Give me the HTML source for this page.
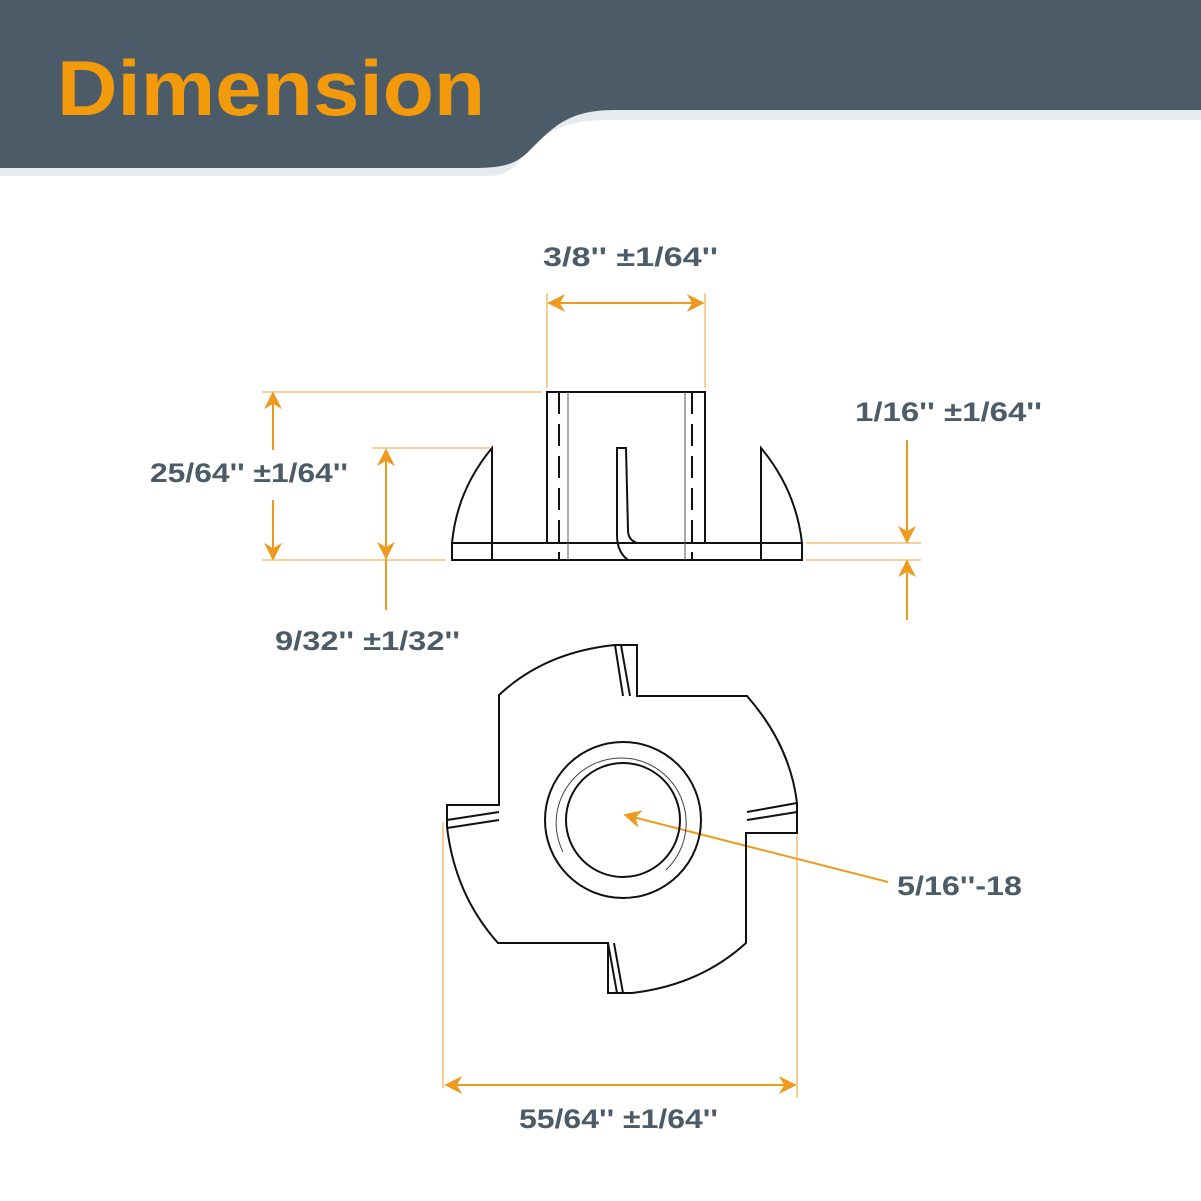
<!DOCTYPE html>
<html><head><meta charset="utf-8"><style>
html,body{margin:0;padding:0;background:#fff;}
svg{display:block;}
text{font-family:"Liberation Sans",sans-serif;font-weight:bold;fill:#4b5b67;}
</style></head><body>
<svg width="1201" height="1201" viewBox="0 0 1201 1201" xmlns="http://www.w3.org/2000/svg">
<defs>
<marker id="ah2" viewBox="0 0 10 10" refX="9" refY="5" markerWidth="18" markerHeight="18" orient="auto-start-reverse" markerUnits="userSpaceOnUse"><path d="M0,0 L10,5 L0,10 L3,5 z" fill="#ee9a1f"/></marker>
</defs>
<!-- header -->
<path d="M0,0 H1201 V120 H610 C560,120 540,135 520,160 C505,178 495,176 470,176 H0 Z" fill="#e6ebef"/>
<path d="M0,0 H1201 V110 H615 C570,110 555,125 530,150 C515,166 500,168 470,168 H0 Z" fill="#4b5c68"/>
<text x="57" y="115" font-size="78" textLength="428" lengthAdjust="spacingAndGlyphs" style="fill:#f39a0a">Dimension</text>

<g stroke="#f0b35a" stroke-width="1.3" fill="none">
<line x1="547" y1="293" x2="547" y2="388"/><line x1="705" y1="293" x2="705" y2="388"/>
<line x1="262" y1="392" x2="542" y2="392"/>
<line x1="262" y1="560" x2="445" y2="560"/>
<line x1="372" y1="448" x2="490" y2="448"/>
<line x1="806" y1="543" x2="921" y2="543"/><line x1="806" y1="560" x2="921" y2="560"/>
<line x1="443" y1="822" x2="443" y2="1088"/><line x1="797" y1="835" x2="797" y2="1098"/>
</g>
<g stroke="#ee9a1f" stroke-width="2" fill="none">
<line x1="549" y1="303" x2="703" y2="303" marker-start="url(#ah2)" marker-end="url(#ah2)"/>
<line x1="273" y1="450" x2="273" y2="393" marker-end="url(#ah2)"/>
<line x1="273" y1="500" x2="273" y2="559" marker-end="url(#ah2)"/>
<line x1="386" y1="450" x2="386" y2="558" marker-start="url(#ah2)" marker-end="url(#ah2)"/>
<line x1="386" y1="558" x2="386" y2="610"/>
<line x1="907" y1="440" x2="907" y2="542" marker-end="url(#ah2)"/>
<line x1="907" y1="620" x2="907" y2="561" marker-end="url(#ah2)"/>
<line x1="446" y1="1085" x2="795" y2="1085" marker-start="url(#ah2)" marker-end="url(#ah2)"/>
<line x1="888" y1="882" x2="625" y2="815" marker-end="url(#ah2)"/>
</g>

<!-- side view -->
<g stroke="#111" stroke-width="2" fill="none">
<rect x="452" y="543" width="350" height="17"/>
<path d="M547,543 V392 H705 V543"/>
<path d="M492,560 V448 Q457,490 452,543"/>
<path d="M761,560 V448 Q796,490 802,543"/>
<path d="M637,543 Q628,540 628,530 L626,448 H617 V535 Q617,552 628,560"/>
<line x1="559" y1="392" x2="559" y2="560" stroke-dasharray="22,10"/>
<line x1="692" y1="392" x2="692" y2="560" stroke-dasharray="22,10"/>
</g>
<g stroke="#555" stroke-width="1" fill="none">
<line x1="568" y1="392" x2="568" y2="560"/><line x1="685" y1="392" x2="685" y2="560"/>
</g>

<!-- top view -->
<g stroke="#111" stroke-width="2" fill="none">
<path d="M499,695 Q545,652 615,645 L637,645 V696 H747 Q790,745 797,803 V833 H746 V943 Q700,985 632,993 H608 V943 H498 Q455,895 447,827 V805 H499 Z"/>
<line x1="615" y1="645" x2="623" y2="696"/><line x1="621" y1="645" x2="630" y2="696"/>
<line x1="747" y1="812" x2="797" y2="803"/><line x1="747" y1="820" x2="797" y2="812"/>
<line x1="608" y1="943" x2="617" y2="993" /><line x1="614" y1="943" x2="623" y2="993"/>
<line x1="499" y1="812" x2="447" y2="820"/><line x1="499" y1="820" x2="447" y2="828"/>
<circle cx="623" cy="820" r="78"/>
<circle cx="623" cy="820" r="57"/>
</g>
<path d="M563,852 A65,65 0 1 1 666,870" stroke="#444" stroke-width="1" fill="none"/>

<text x="543" y="266" font-size="27" textLength="175" lengthAdjust="spacingAndGlyphs">3/8'' ±1/64''</text>
<text x="150" y="482" font-size="27" textLength="198" lengthAdjust="spacingAndGlyphs">25/64'' ±1/64''</text>
<text x="275" y="650" font-size="27" textLength="185" lengthAdjust="spacingAndGlyphs">9/32'' ±1/32''</text>
<text x="855" y="421" font-size="27" textLength="187" lengthAdjust="spacingAndGlyphs">1/16'' ±1/64''</text>
<text x="897" y="895" font-size="27" textLength="125" lengthAdjust="spacingAndGlyphs">5/16''-18</text>
<text x="519" y="1128" font-size="27" textLength="199" lengthAdjust="spacingAndGlyphs">55/64'' ±1/64''</text>
</svg>
</body></html>
